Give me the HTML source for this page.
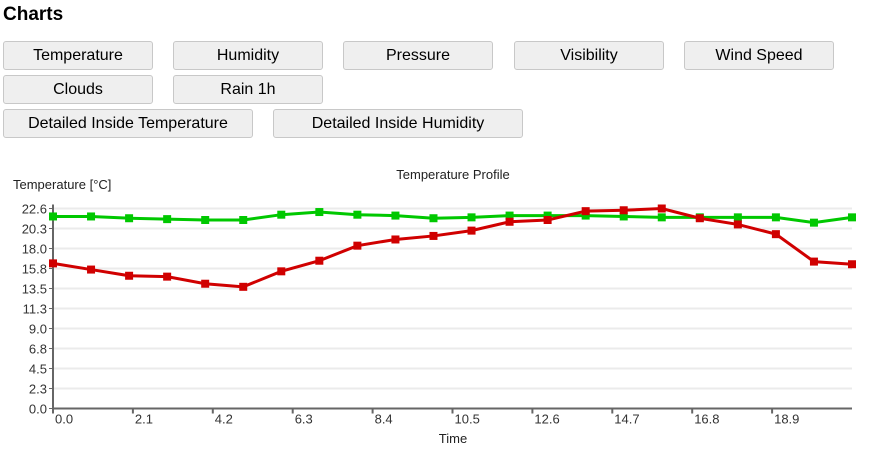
<!DOCTYPE html>
<html><head><meta charset="utf-8">
<style>
body{margin:0;width:877px;height:457px;background:#fff;font-family:"Liberation Sans",Arial,sans-serif;position:relative;overflow:hidden}
h1{position:absolute;left:3px;top:4px;margin:0;font-size:19px;font-weight:bold;color:#000}
.btn{position:absolute;height:29px;box-sizing:border-box;border:1px solid #c8c8c8;border-radius:3px;background:#efefef;font-size:16px;line-height:27px;text-align:center;color:#000;font-family:"Liberation Sans",Arial,sans-serif}
svg{position:absolute;left:0;top:0}
svg text{font-family:"Liberation Sans",Arial,sans-serif}
</style></head><body>
<h1>Charts</h1>
<div class="btn" style="left:3px;top:41px;width:150px">Temperature</div>
<div class="btn" style="left:173px;top:41px;width:150px">Humidity</div>
<div class="btn" style="left:343px;top:41px;width:150px">Pressure</div>
<div class="btn" style="left:514px;top:41px;width:150px">Visibility</div>
<div class="btn" style="left:684px;top:41px;width:150px">Wind Speed</div>
<div class="btn" style="left:3px;top:75px;width:150px">Clouds</div>
<div class="btn" style="left:173px;top:75px;width:150px">Rain 1h</div>
<div class="btn" style="left:3px;top:109px;width:250px">Detailed Inside Temperature</div>
<div class="btn" style="left:273px;top:109px;width:250px">Detailed Inside Humidity</div>
<svg id="chart" width="877" height="457"></svg>
<script>
const hours=[0,1,2,3,4,5,6,7,8,9,10,11,12,13,14,15,16,17,18,19,20,21];
const outsideTemp=[16.4,15.7,15.0,14.9,14.1,13.75,15.5,16.7,18.4,19.1,19.5,20.1,21.1,21.3,22.3,22.4,22.6,21.5,20.8,19.7,16.6,16.3];
const insideTemp=[21.7,21.7,21.5,21.4,21.3,21.3,21.9,22.2,21.9,21.8,21.5,21.6,21.8,21.8,21.8,21.7,21.6,21.6,21.6,21.6,21.0,21.6];
const yTicks=[0.0,2.3,4.5,6.8,9.0,11.3,13.5,15.8,18.0,20.3,22.6];
const xTicks=[0.0,2.1,4.2,6.3,8.4,10.5,12.6,14.7,16.8,18.9];
const X0=53,X1=852,Y0=408.5,Y1=208.5,XMAX=21,YMAX=22.6;
const sx=v=>X0+(v/XMAX)*(X1-X0);
const sy=v=>Y0-(v/YMAX)*(Y0-Y1);
const svg=document.getElementById('chart');
const NS='http://www.w3.org/2000/svg';
function mk(tag,attrs,parent){const e=document.createElementNS(NS,tag);for(const k in attrs)e.setAttribute(k,attrs[k]);(parent||svg).appendChild(e);return e;}
yTicks.forEach((t,i)=>{
  const y=sy(i*YMAX/10);
  const g=mk('line',{x1:X0,x2:X1,y1:y,y2:y,stroke:'#ebebeb','stroke-width':2});
  
  
  mk('line',{x1:X0-4,x2:X0,y1:y,y2:y,stroke:'#666','stroke-width':1});
  const tx=mk('text',{x:X0-6,y:y+5,'text-anchor':'end','font-size':13,fill:'#333'});
  tx.textContent=t.toFixed(1);
  
  
});
xTicks.forEach(t=>{
  const x=sx(t);
  mk('line',{x1:x,x2:x,y1:Y0,y2:Y0+5,stroke:'#666','stroke-width':2});
  const tx=mk('text',{x:x+2,y:Y0+15,'font-size':13,fill:'#333'});
  tx.textContent=t.toFixed(1);
  
  
});
const ya=mk('line',{x1:X0,x2:X0,y1:Y1-4,y2:Y0+1,stroke:'#666','stroke-width':2});


const xa=mk('line',{x1:X0,x2:X1,y1:Y0,y2:Y0,stroke:'#666','stroke-width':2});


function series(vals,color,name){
  const g=mk('g',{});
  
  
  const pts=vals.map((v,i)=>sx(hours[i])+','+sy(v)).join(' ');
  mk('polyline',{points:pts,fill:'none',stroke:color,'stroke-width':3},g);
  vals.forEach((v,i)=>{
    const r=mk('rect',{x:sx(hours[i])-4,y:sy(v)-4,width:8,height:8,fill:color},g);
    
    
  });
}
series(insideTemp,'#00c800','inside-temperature-series');
series(outsideTemp,'#d00000','outside-temperature-series');
const t1=mk('text',{x:453,y:179,'text-anchor':'middle','font-size':13,fill:'#222'});
t1.textContent='Temperature Profile';


const t2=mk('text',{x:13,y:189,'font-size':13,fill:'#222'});
t2.textContent='Temperature [°C]';


const t3=mk('text',{x:453,y:443,'text-anchor':'middle','font-size':13,fill:'#222'});
t3.textContent='Time';


</script>
</body></html>
